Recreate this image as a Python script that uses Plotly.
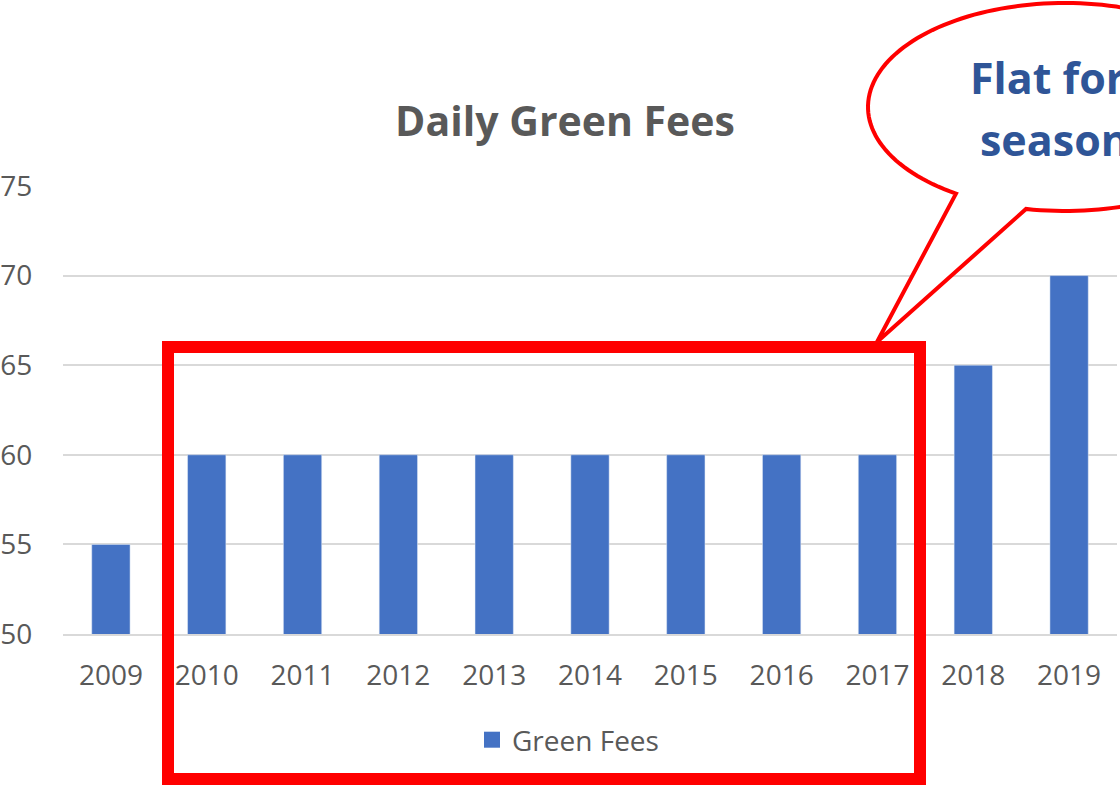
import numpy as np
import plotly.graph_objects as go

years = ["2009", "2010", "2011", "2012", "2013", "2014", "2015", "2016", "2017", "2018", "2019"]
fees = [55, 60, 60, 60, 60, 60, 60, 60, 60, 65, 70]
series_name = "Green Fees"
title_text = "Daily Green Fees"
callout_line1 = "Flat for 8"
callout_line2 = "seasons"

W, H = 1120, 786
L, R, T, B = 63, 3, 186, 152
PW, PH = W - L - R, H - T - B


def px(x):
    return (x - L) / PW


def py(y):
    return (H - B - y) / PH


fig = go.Figure()
fig.add_trace(go.Bar(x=years, y=fees, name=series_name, marker_color="#4472C4",
                     width=0.4, showlegend=False))
# legend entry with a larger square swatch
fig.add_trace(go.Scatter(x=[None], y=[None], mode="markers", name=series_name,
                         marker=dict(symbol="square", size=16, color="#4472C4"),
                         showlegend=True))

# callout bubble path (pixel geometry -> paper)
cx, cy, rx, ry = 1065, 107, 197, 104
a0, a1 = np.deg2rad(123.6), np.deg2rad(101.4 + 360)
ts = np.linspace(a0, a1, 160)
pts = [(cx + rx * np.cos(t), cy + ry * np.sin(t)) for t in ts]
pts.append((877, 342))
path = "M " + " L ".join(f"{px(x):.5f},{py(y):.5f}" for x, y in pts) + " Z"

shapes = [
    dict(type="rect", xref="paper", yref="paper", x0=px(168), x1=px(920),
         y0=py(347), y1=py(779), line=dict(color="#FF0000", width=12),
         fillcolor="rgba(0,0,0,0)", layer="above"),
    dict(type="path", xref="paper", yref="paper", path=path,
         line=dict(color="#FF0000", width=4), fillcolor="white", layer="above"),
]

annotations = [
    dict(text=f"<b>{callout_line1}</b>", xref="paper", yref="paper", x=px(968), y=py(77),
         xanchor="left", yanchor="middle", showarrow=False,
         font=dict(family="Open Sans", size=43, color="#2F5597")),
    dict(text=f"<b>{callout_line2}</b>", xref="paper", yref="paper", x=px(978), y=py(139),
         xanchor="left", yanchor="middle", showarrow=False,
         font=dict(family="Open Sans", size=43, color="#2F5597")),
]

fig.update_layout(
    width=W, height=H,
    margin=dict(l=L, r=R, t=T, b=B, pad=0, autoexpand=False),
    paper_bgcolor="white", plot_bgcolor="white",
    title=dict(text=f"<b>{title_text}</b>", xref="container", x=565 / W, xanchor="center",
               yref="container", y=1 - 122 / H, yanchor="middle",
               font=dict(family="Open Sans", size=41, color="#595959")),
    font=dict(family="Open Sans", size=28, color="#595959"),
    showlegend=True,
    legend=dict(orientation="h", x=px(568), xanchor="center", y=py(740), yanchor="middle",
                font=dict(size=28, color="#595959"), bgcolor="rgba(0,0,0,0)"),
    xaxis=dict(type="category", showgrid=False, zeroline=False, showline=True,
               linecolor="#D9D9D9", linewidth=1.5, automargin=False,
               ticks="outside", ticklen=16, tickcolor="rgba(0,0,0,0)",
               tickfont=dict(size=28, color="#595959")),
    yaxis=dict(range=[50, 75], dtick=5, showgrid=True, gridcolor="#D9D9D9", gridwidth=1.5,
               zeroline=False, showline=False, automargin=False,
               ticks="outside", ticklen=24, tickcolor="rgba(0,0,0,0)",
               tickfont=dict(size=28, color="#595959")),
    shapes=shapes,
    annotations=annotations,
    bargap=0.6,
)

fig.write_html("out.html")
